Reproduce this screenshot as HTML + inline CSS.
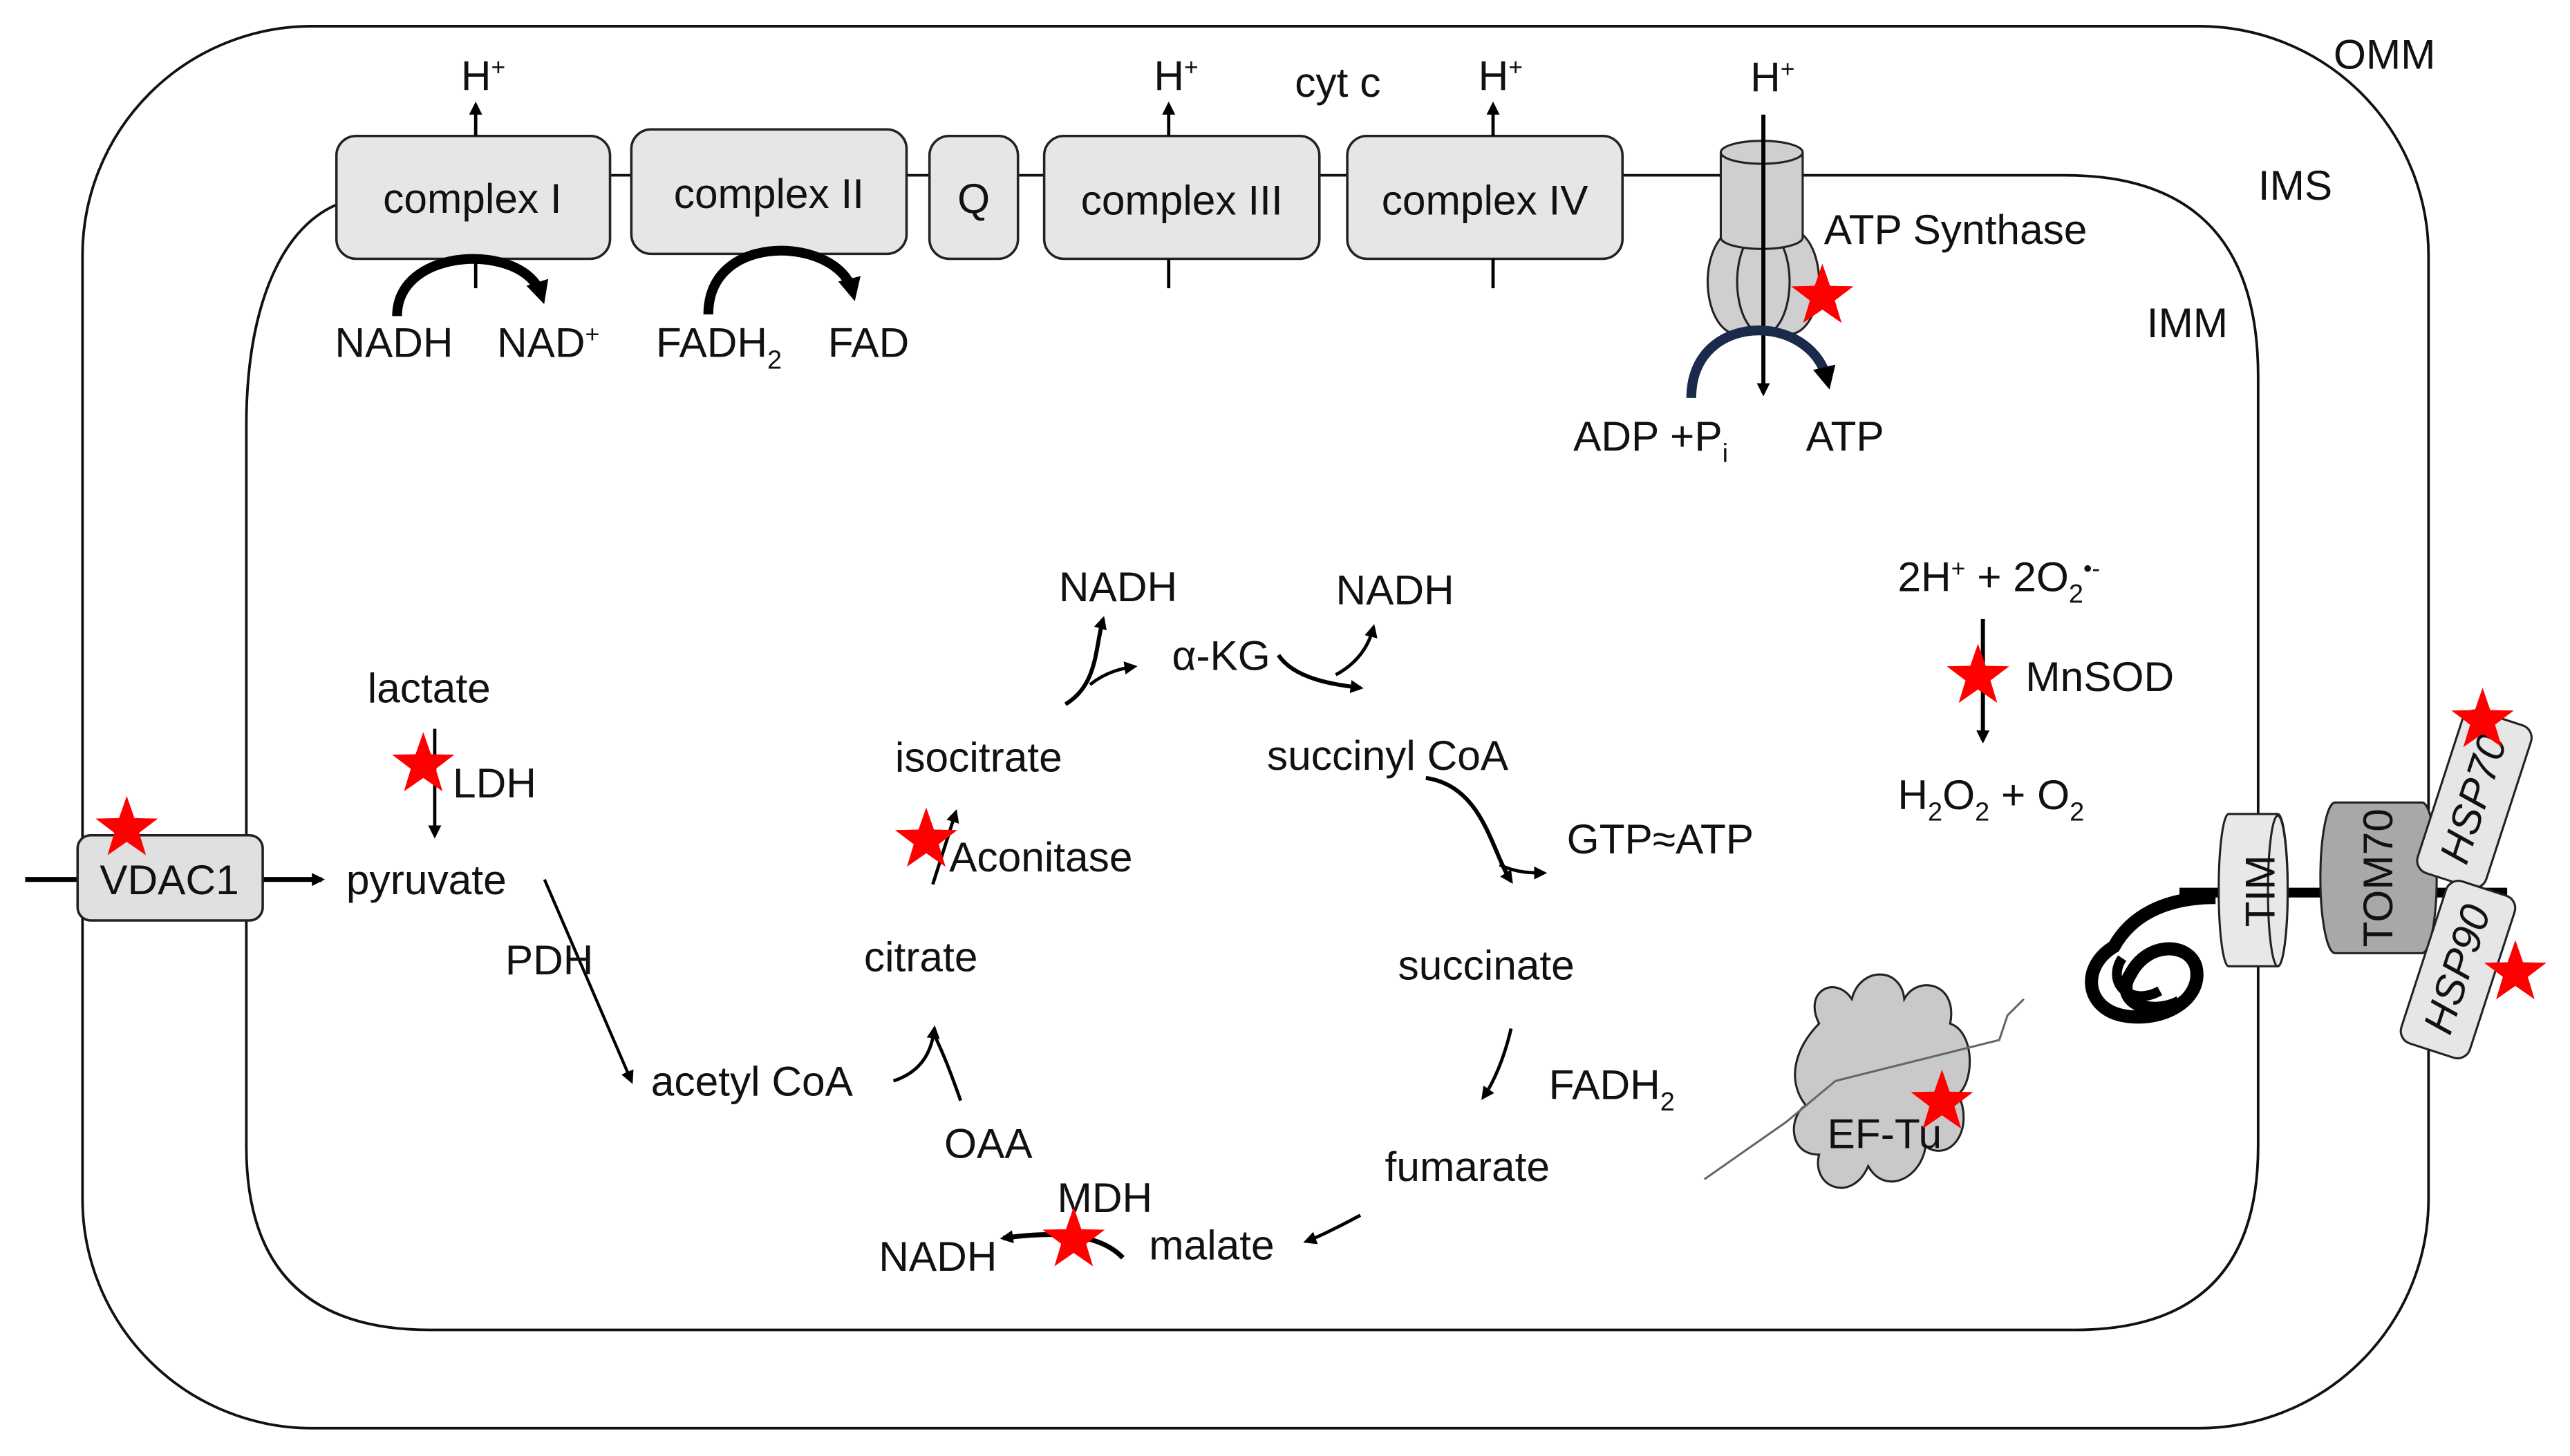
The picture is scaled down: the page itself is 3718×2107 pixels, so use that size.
<!DOCTYPE html>
<html><head><meta charset="utf-8"><style>
html,body{margin:0;padding:0;background:#fff;}
svg{display:block;}
text{font-family:"Liberation Sans",sans-serif;font-size:25.5px;fill:#111;}
</style></head><body>
<svg width="3718" height="2107" viewBox="0 0 1568 889" xmlns="http://www.w3.org/2000/svg">
<defs>
<marker id="ah" markerWidth="8" markerHeight="8" refX="6" refY="4" orient="auto" markerUnits="userSpaceOnUse"><path d="M0,0 L8,4 L0,8 Z" fill="#000"/></marker>
<marker id="ahb" markerWidth="14" markerHeight="14" refX="8" refY="7" orient="auto" markerUnits="userSpaceOnUse"><path d="M0,0 L14,7 L0,14 Z" fill="#000"/></marker>
<polygon id="star" points="0,-20 4.7,-6.47 19.02,-6.18 7.61,2.47 11.76,16.18 0,8 -11.76,16.18 -7.61,2.47 -19.02,-6.18 -4.7,-6.47" fill="#f00"/>
</defs>
<rect x="50" y="16" width="1432" height="856" rx="140" ry="140" fill="none" stroke="#111" stroke-width="1.6"/>
<path d="M205,125 C170,140 150,190 150,260 L150,700 Q150,812 262,812 L1266,812 Q1378,812 1378,700 L1378,230 Q1378,107 1260,107 L990,107" fill="none" stroke="#111" stroke-width="1.6"/>
<line x1="372" y1="107" x2="385" y2="107" stroke="#111" stroke-width="1.6"/>
<line x1="553" y1="107" x2="567" y2="107" stroke="#111" stroke-width="1.6"/>
<line x1="621" y1="107" x2="637" y2="107" stroke="#111" stroke-width="1.6"/>
<line x1="805" y1="107" x2="822" y2="107" stroke="#111" stroke-width="1.6"/>
<g fill="#e6e6e6" stroke="#222" stroke-width="1.5">
<rect x="205" y="83" width="167" height="75" rx="12"/>
<rect x="385" y="79" width="168" height="76" rx="12"/>
<rect x="567" y="83" width="54" height="75" rx="12"/>
<rect x="637" y="83" width="168" height="75" rx="12"/>
<rect x="822" y="83" width="168" height="75" rx="12"/>
</g>
<text x="288" y="130" text-anchor="middle">complex I</text>
<text x="469" y="127" text-anchor="middle">complex II</text>
<text x="594" y="130" text-anchor="middle">Q</text>
<text x="721" y="131" text-anchor="middle">complex III</text>
<text x="906" y="131" text-anchor="middle">complex IV</text>
<g stroke="#000" stroke-width="2" fill="none">
<line x1="290" y1="83" x2="290" y2="64" marker-end="url(#ah)"/>
<line x1="713" y1="83" x2="713" y2="64" marker-end="url(#ah)"/>
<line x1="911" y1="83" x2="911" y2="64" marker-end="url(#ah)"/>
<line x1="290" y1="158" x2="290" y2="176"/>
<line x1="713" y1="158" x2="713" y2="176"/>
<line x1="911" y1="158" x2="911" y2="176"/>
</g>
<text x="281" y="55">H<tspan font-size="15" dy="-9">+</tspan></text>
<text x="704" y="55">H<tspan font-size="15" dy="-9">+</tspan></text>
<text x="902" y="55">H<tspan font-size="15" dy="-9">+</tspan></text>
<text x="790" y="59">cyt c</text>
<g stroke="#000" stroke-width="6" fill="none">
<path d="M242,193 C242,150 320,148 330,180" marker-end="url(#ahb)"/>
<path d="M432,192 C432,140 512,145 520,178" marker-end="url(#ahb)"/>
</g>
<text x="204" y="218">NADH</text>
<text x="303" y="218">NAD<tspan font-size="15" dy="-9">+</tspan></text>
<text x="400" y="218">FADH<tspan font-size="16" dy="7">2</tspan></text>
<text x="505" y="218">FAD</text>
<g fill="#cfcfcf" stroke="#222" stroke-width="1.3">
<ellipse cx="1060" cy="172" rx="18" ry="32"/>
<ellipse cx="1092" cy="172" rx="18" ry="32"/>
<ellipse cx="1076" cy="172" rx="16" ry="32"/>
<path d="M1050,93 L1050,145 A25,7 0 0 0 1100,145 L1100,93"/>
<ellipse cx="1075" cy="93" rx="25" ry="7"/>
</g>
<line x1="1076" y1="70" x2="1076" y2="240" stroke="#000" stroke-width="2.5" marker-end="url(#ah)"/>
<path d="M1032,243 C1032,190 1105,190 1115,232" fill="none" stroke="#1a2a4a" stroke-width="6" marker-end="url(#ahb)"/>
<text x="1068" y="56">H<tspan font-size="15" dy="-9">+</tspan></text>
<text x="1113" y="149">ATP Synthase</text>
<use href="#star" x="1112" y="181"/>
<text x="960" y="275">ADP +P<tspan font-size="16" dy="7">i</tspan></text>
<text x="1102" y="275">ATP</text>
<text x="1424" y="42">OMM</text>
<text x="1378" y="122">IMS</text>
<text x="1310" y="206">IMM</text>
<line x1="15" y1="537" x2="47" y2="537" stroke="#000" stroke-width="3"/>
<line x1="160" y1="537" x2="196" y2="537" stroke="#000" stroke-width="3" marker-end="url(#ah)"/>
<rect x="47" y="510" width="113" height="52" rx="8" fill="#e0e0e0" stroke="#222" stroke-width="1.5"/>
<text x="103" y="546" text-anchor="middle">VDAC1</text>
<use href="#star" x="77" y="506"/>
<text x="224" y="429">lactate</text>
<line x1="265" y1="445" x2="265" y2="510" stroke="#000" stroke-width="2" marker-end="url(#ah)"/>
<use href="#star" x="258" y="467"/>
<text x="276" y="487">LDH</text>
<text x="211" y="546">pyruvate</text>
<line x1="332" y1="537" x2="385" y2="660" stroke="#000" stroke-width="1.8" marker-end="url(#ah)"/>
<text x="308" y="595">PDH</text>
<text x="397" y="669">acetyl CoA</text>
<path d="M545,660 C560,655 568,645 570,628" fill="none" stroke="#000" stroke-width="2" marker-end="url(#ah)"/>
<path d="M586,672 C580,655 575,642 569,630" fill="none" stroke="#000" stroke-width="2"/>
<text x="527" y="593">citrate</text>
<text x="576" y="707">OAA</text>
<line x1="569" y1="540" x2="583" y2="496" stroke="#000" stroke-width="2" marker-end="url(#ah)"/>
<use href="#star" x="565" y="513"/>
<text x="579" y="532">Aconitase</text>
<text x="546" y="471">isocitrate</text>
<path d="M650,430 C670,418 668,395 673,378" fill="none" stroke="#000" stroke-width="2.5" marker-end="url(#ah)"/>
<path d="M665,418 C675,410 685,408 692,407" fill="none" stroke="#000" stroke-width="2" marker-end="url(#ah)"/>
<text x="646" y="367">NADH</text>
<text x="715" y="409">α-KG</text>
<path d="M780,400 C790,415 815,418 830,420" fill="none" stroke="#000" stroke-width="2.5" marker-end="url(#ah)"/>
<path d="M815,412 C828,405 835,395 838,383" fill="none" stroke="#000" stroke-width="2" marker-end="url(#ah)"/>
<text x="815" y="369">NADH</text>
<text x="773" y="470">succinyl CoA</text>
<path d="M870,475 C905,480 910,520 922,538" fill="none" stroke="#000" stroke-width="2.5" marker-end="url(#ah)"/>
<path d="M915,528 C925,533 935,533 942,533" fill="none" stroke="#000" stroke-width="2" marker-end="url(#ah)"/>
<text x="956" y="521">GTP≈ATP</text>
<text x="853" y="598">succinate</text>
<path d="M922,628 C918,645 912,660 905,670" fill="none" stroke="#000" stroke-width="2" marker-end="url(#ah)"/>
<text x="945" y="671">FADH<tspan font-size="16" dy="7">2</tspan></text>
<text x="845" y="721">fumarate</text>
<path d="M830,742 C815,750 805,755 797,758" fill="none" stroke="#000" stroke-width="2" marker-end="url(#ah)"/>
<text x="701" y="769">malate</text>
<text x="645" y="740">MDH</text>
<path d="M685,768 C670,752 640,752 612,756" fill="none" stroke="#000" stroke-width="3" marker-end="url(#ah)"/>
<use href="#star" x="655" y="757"/>
<text x="536" y="776">NADH</text>
<text x="1158" y="361">2H<tspan font-size="15" dy="-9">+</tspan><tspan dy="9"> + 2O</tspan><tspan font-size="16" dy="7">2</tspan><tspan font-size="15" dy="-16">•-</tspan></text>
<line x1="1210" y1="378" x2="1210" y2="452" stroke="#000" stroke-width="2.5" marker-end="url(#ah)"/>
<use href="#star" x="1207" y="413"/>
<text x="1236" y="422">MnSOD</text>
<text x="1158" y="494">H<tspan font-size="16" dy="7">2</tspan><tspan dy="-7">O</tspan><tspan font-size="16" dy="7">2</tspan><tspan dy="-7"> +  O</tspan><tspan font-size="16" dy="7">2</tspan></text>
<line x1="1330" y1="545" x2="1530" y2="545" stroke="#000" stroke-width="6"/>
<path d="M1352,548 C1320,548 1300,560 1290,578 C1270,590 1272,615 1295,620 C1320,625 1345,610 1340,590 C1335,575 1310,575 1300,595 C1290,610 1310,622 1330,612" fill="none" stroke="#000" stroke-width="8"/>
<path d="M1295,585 C1285,600 1300,615 1318,605" fill="none" stroke="#000" stroke-width="6"/>
<g stroke="#222" stroke-width="1.3">
<path d="M1360,497 L1390,497 A6,46 0 0 1 1390,590 L1360,590 A6,46 0 0 1 1360,497 Z" fill="#e8e8e8"/>
<ellipse cx="1390" cy="544" rx="6" ry="46" fill="#e8e8e8"/>
<path d="M1425,490 L1478,490 A9,46 0 0 1 1478,582 L1425,582 A9,46 0 0 1 1425,490 Z" fill="#a8a8a8"/>
<g transform="translate(1510,488) rotate(-72)"><rect x="-52" y="-22" width="104" height="44" rx="8" fill="#e6e6e6"/></g>
<g transform="translate(1500,592) rotate(-72)"><rect x="-52" y="-22" width="104" height="44" rx="8" fill="#e6e6e6"/></g>
</g>
<text transform="translate(1380,544) rotate(-90)" text-anchor="middle" dy="8">TIM</text>
<text transform="translate(1452,536) rotate(-90)" text-anchor="middle" dy="8">TOM70</text>
<text transform="translate(1510,488) rotate(-72)" text-anchor="middle" dy="8" font-style="italic">HSP70</text>
<text transform="translate(1500,592) rotate(-72)" text-anchor="middle" dy="8" font-style="italic">HSP90</text>
<use href="#star" x="1515" y="440"/>
<use href="#star" x="1535" y="594"/>
<path d="M1110,625 C1100,605 1120,595 1130,610 C1135,590 1160,590 1162,610 C1170,595 1195,600 1190,625 C1205,630 1205,660 1195,668 C1205,690 1190,710 1175,700 C1172,720 1150,730 1140,712 C1130,735 1105,725 1110,705 C1090,705 1092,680 1102,675 C1090,660 1095,640 1110,625 Z" fill="#c9c9c9" stroke="#222" stroke-width="1.3"/>
<path d="M1040,720 L1090,685 L1120,660 L1160,650 L1220,635 L1225,620 L1235,610" fill="none" stroke="#666" stroke-width="1.3"/>
<text x="1115" y="701">EF-Tu</text>
<use href="#star" x="1185" y="673"/>
</svg>
</body></html>
